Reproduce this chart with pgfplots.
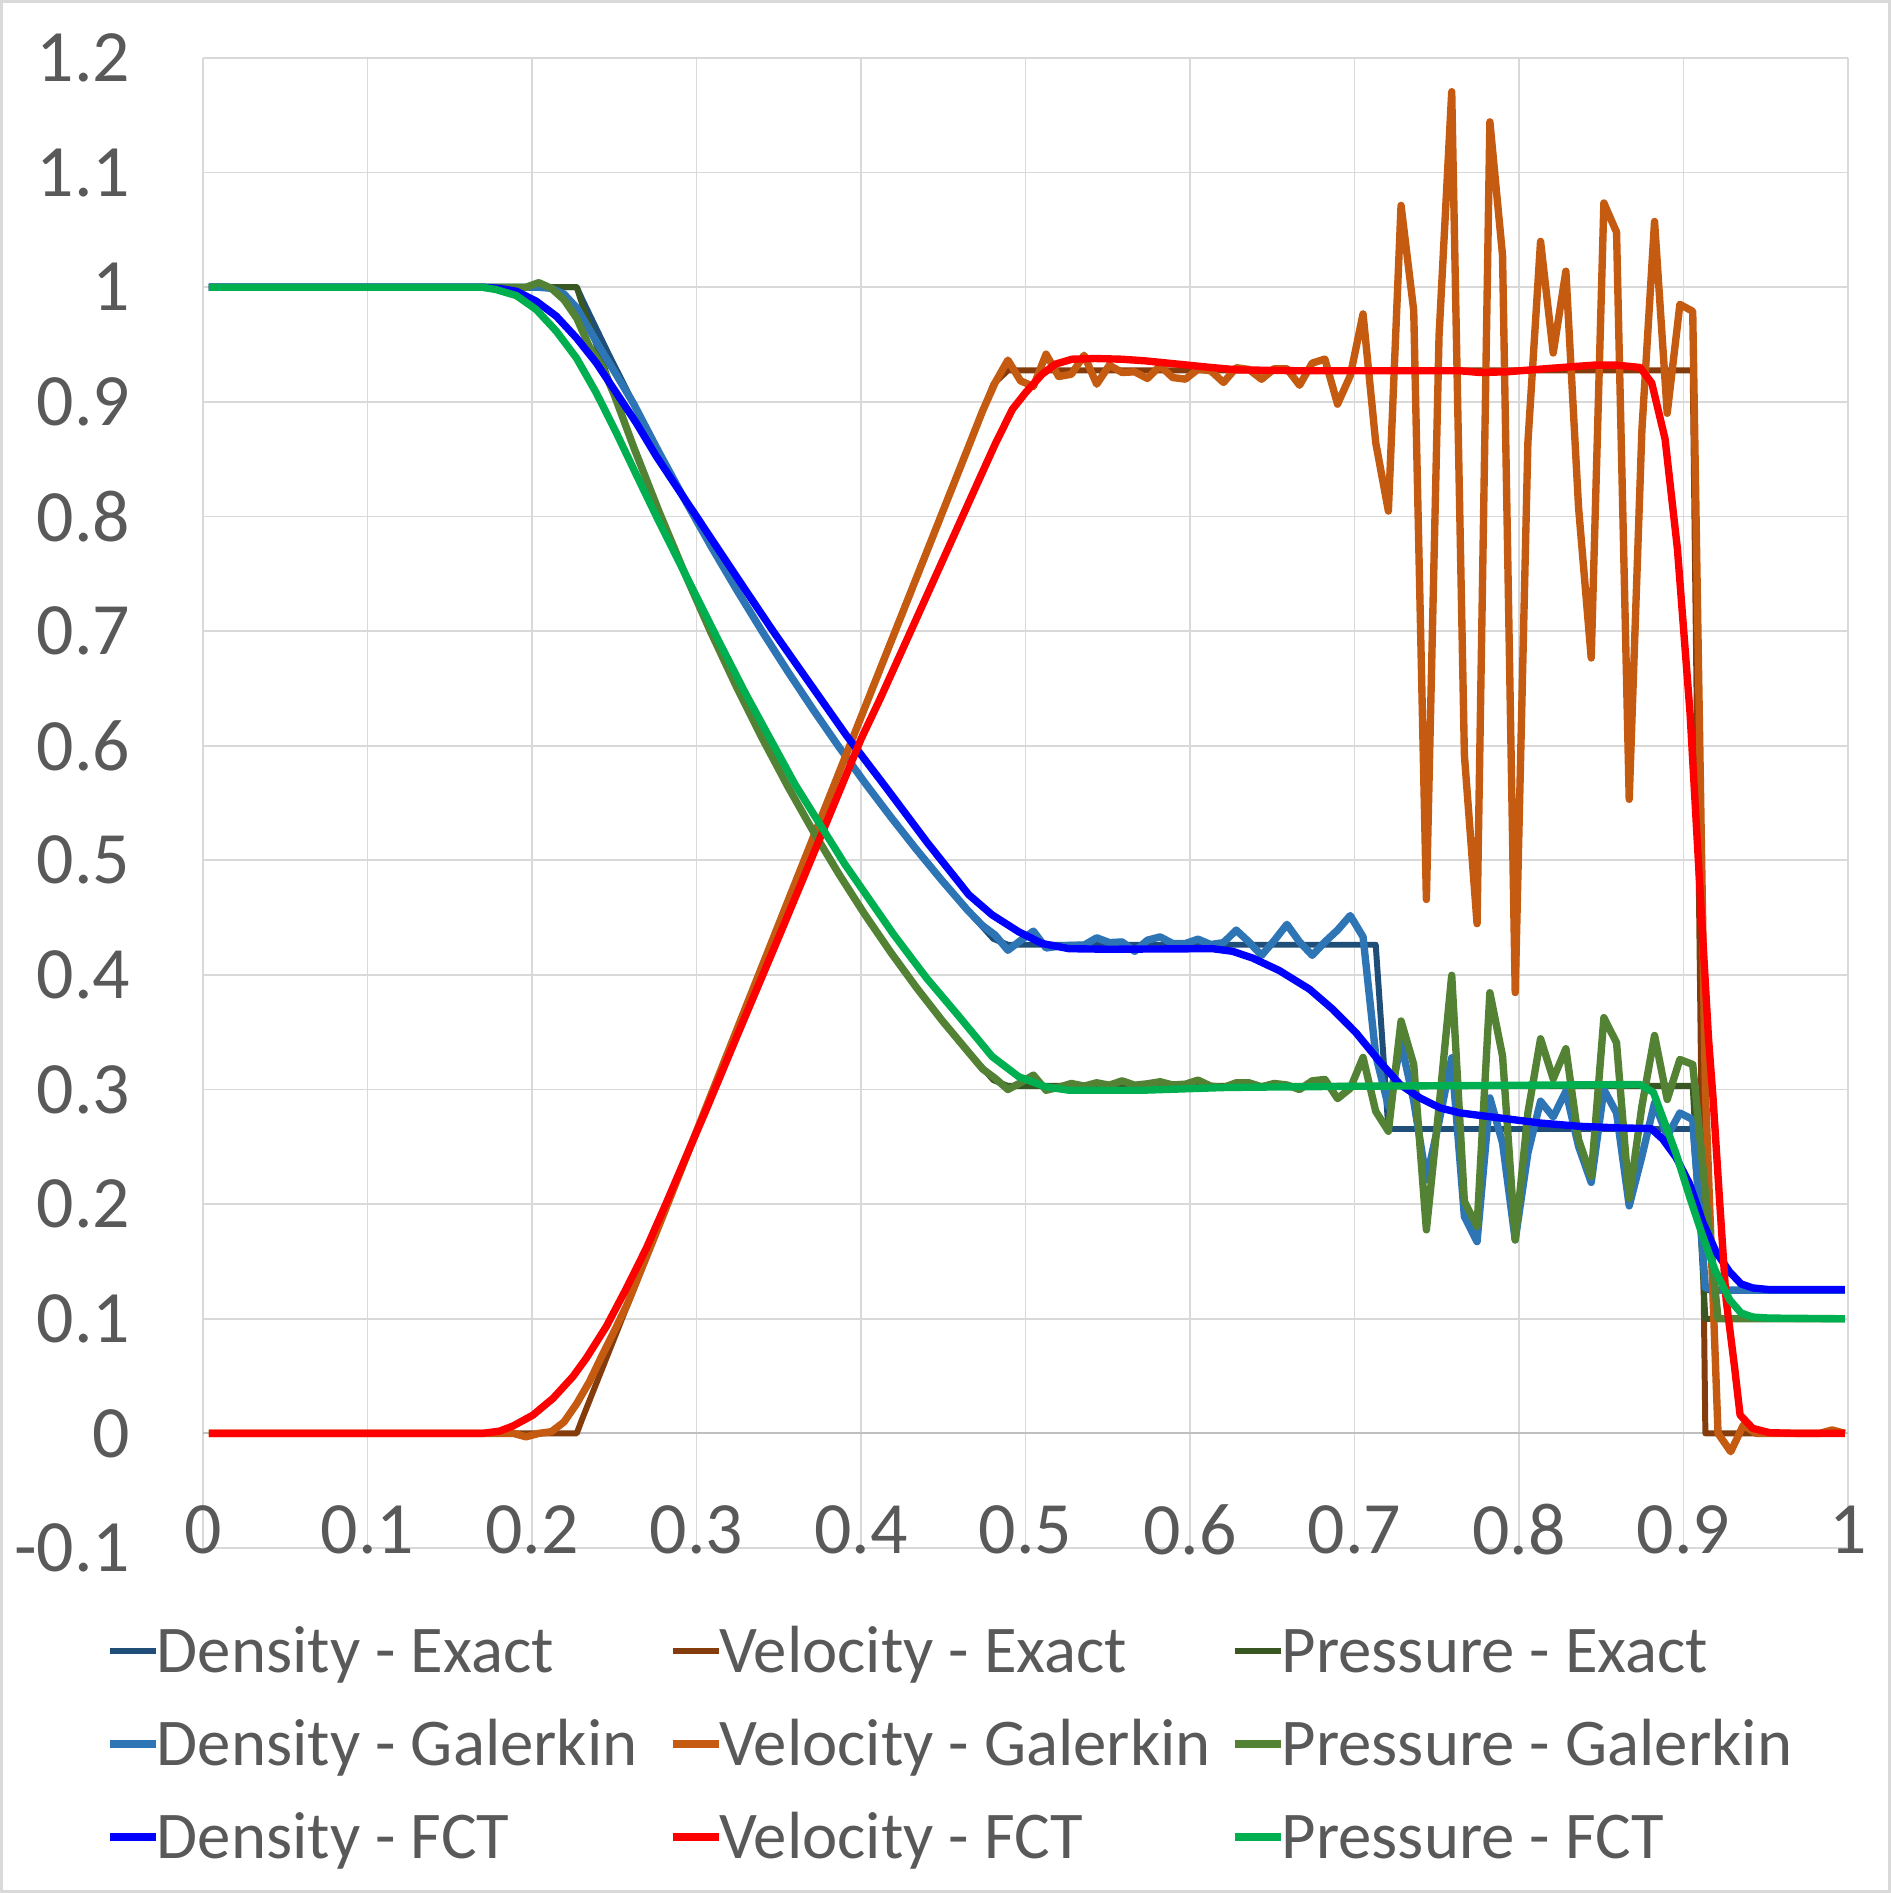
\documentclass[border=0pt]{standalone}
\usepackage{pgfplots}
\pgfplotsset{compat=1.18}
\usepackage{fontspec}
\setmainfont{Carlito}
\definecolor{dexact}{HTML}{1F4E79}
\definecolor{vexact}{HTML}{843C0C}
\definecolor{pexact}{HTML}{385723}
\definecolor{dgal}{HTML}{2E75B6}
\definecolor{vgal}{HTML}{C55A11}
\definecolor{pgal}{HTML}{548235}
\definecolor{dfct}{HTML}{0000FF}
\definecolor{vfct}{HTML}{FF0000}
\definecolor{pfct}{HTML}{00B050}
\definecolor{gridgray}{HTML}{D9D9D9}
\definecolor{axisgray}{HTML}{BFBFBF}
\definecolor{txtgray}{HTML}{595959}
\newcommand{\lgd}[1]{\raisebox{1mm}[4.65mm][4.65mm]{\makebox[51.2mm][l]{#1}}}
\begin{document}
\begin{tikzpicture}
\path[use as bounding box, fill=white] (-20.3mm,-34.5mm) rectangle (168.8mm,154.8mm);
\draw[gridgray, line width=0.25mm] (-20.15mm,-34.35mm) rectangle (168.65mm,154.65mm);
\begin{axis}[
  scale only axis, width=164.5mm, height=149mm,
  xmin=0, xmax=1, ymin=-0.1, ymax=1.2,
  xtick={0,0.1,0.2,0.3,0.4,0.5,0.6,0.7,0.8,0.9,1},
  ytick={-0.1,0,0.1,0.2,0.3,0.4,0.5,0.6,0.7,0.8,0.9,1,1.1,1.2},
  grid=major, major grid style={gridgray, line width=0.5pt},
  axis line style={draw=none},
  major tick length=0pt,
  extra y ticks={0}, extra y tick labels={},
  extra y tick style={grid=major, major grid style={axisgray, line width=0.6pt}},
  /pgf/number format/assume math mode=true,
  tick label style={font=\fontsize{21}{25}\selectfont, text=txtgray},
  xticklabel={\pgfmathprintnumber[fixed,precision=1]{\tick}},
  yticklabel={\pgfmathprintnumber[fixed,precision=1]{\tick}},
  xticklabel style={anchor=center, inner sep=0pt, yshift=1.8mm},
  yticklabel style={anchor=east, inner sep=0pt, xshift=-7.2mm},
  legend columns=3,
  legend style={at={(0,0)}, anchor=north west, xshift=-9.65mm, yshift=-6.7mm,
    draw=none, fill=none, inner sep=0pt, outer sep=0pt, row sep=0pt,
    font=\fontsize{19}{22}\selectfont, text=txtgray,
    nodes={inner sep=0pt, outer sep=0pt},
    /tikz/every odd column/.append style={column sep=-0.3mm},
    /tikz/every even column/.append style={column sep=0pt}},
  legend image code/.code={\path[draw=none, fill=none] (0mm,-4.65mm) rectangle (4.6mm,4.65mm);
    \draw[#1, line cap=butt] (0mm,1.05mm) -- (4.6mm,1.05mm);},
  every axis plot/.append style={line join=round},
]
% Density - Exact
\addplot[dexact, line width=1.7pt] coordinates {
(0.0036,1) (0.2272,1) (0.23047,0.98955) (0.24609,0.94314) (0.26172,0.89849) (0.27734,0.85556) (0.29297,0.81425) (0.30859,0.77457) (0.32422,0.73646) (0.33984,0.69986) (0.35547,0.66475) (0.37109,0.63105) (0.38672,0.59872) (0.40234,0.56774) (0.41797,0.53805) (0.43359,0.50963) (0.44922,0.48238) (0.46484,0.45638) (0.48047,0.43147) (0.4893,0.42632) (0.7129,0.42632) (0.7206,0.26557) (0.9056,0.26557) (0.9133,0.125) (0.9981,0.125)};
\addlegendentry{\lgd{Density - Exact}}
% Velocity - Exact
\addplot[vexact, line width=1.7pt] coordinates {
(0.0036,0) (0.2272,0) (0.23047,0.01241) (0.24609,0.06884) (0.26172,0.12530) (0.27734,0.18173) (0.29297,0.23818) (0.30859,0.29461) (0.32422,0.35107) (0.33984,0.40749) (0.35547,0.46395) (0.37109,0.52037) (0.38672,0.57682) (0.40234,0.63325) (0.41797,0.68971) (0.43359,0.74613) (0.44922,0.80259) (0.46484,0.85901) (0.48047,0.91547) (0.4893,0.92745) (0.9056,0.92745) (0.9133,0) (0.9981,0)};
\addlegendentry{\lgd{Velocity - Exact}}
% Pressure - Exact
\addplot[pexact, line width=1.7pt] coordinates {
(0.0036,1) (0.2272,1) (0.23047,0.98540) (0.24609,0.92131) (0.26172,0.86083) (0.27734,0.80379) (0.29297,0.75001) (0.30859,0.69936) (0.32422,0.65165) (0.33984,0.60678) (0.35547,0.56459) (0.37109,0.52493) (0.38672,0.48768) (0.40234,0.45270) (0.41797,0.41994) (0.43359,0.38918) (0.44922,0.36036) (0.46484,0.33345) (0.48047,0.30825) (0.4893,0.30313) (0.9056,0.30313) (0.9133,0.1) (0.9981,0.1)};
\addlegendentry{\lgd{Pressure - Exact}}
% Density - Galerkin
\addplot[dgal, line width=2.1pt] coordinates {
(0.0036,1) (0.2041,1) (0.2118,0.999) (0.2195,0.994) (0.2272,0.982) (0.2349,0.963) (0.2426,0.944) (0.2503,0.926) (0.26172,0.8985) (0.27734,0.8556) (0.29297,0.8143) (0.30859,0.7746) (0.32422,0.7365) (0.33984,0.6999) (0.35547,0.6648) (0.37109,0.6311) (0.38672,0.5987) (0.40234,0.5677) (0.41797,0.5381) (0.43359,0.5096) (0.44922,0.4824) (0.46484,0.4564) (0.4739,0.443) (0.4816,0.4347) (0.4893,0.4215) (0.4970,0.430) (0.5048,0.4382) (0.5125,0.4235) (0.5202,0.425) (0.5279,0.4259) (0.5356,0.426) (0.5433,0.4324) (0.5510,0.4282) (0.5587,0.4288) (0.5664,0.4206) (0.5741,0.4303) (0.5818,0.4332) (0.5895,0.4274) (0.5972,0.4274) (0.6049,0.4312) (0.6126,0.4265) (0.6204,0.4282) (0.6281,0.4391) (0.6358,0.4288) (0.6435,0.4171) (0.6512,0.430) (0.6589,0.4441) (0.6666,0.4288) (0.6743,0.4171) (0.6820,0.4288) (0.6897,0.4391) (0.6974,0.4518) (0.7052,0.4332) (0.7129,0.33) (0.7206,0.2854) (0.7283,0.3408) (0.7360,0.29) (0.7437,0.2213) (0.7514,0.272) (0.7591,0.3277) (0.7668,0.1892) (0.7745,0.1673) (0.7823,0.2927) (0.7900,0.2534) (0.7977,0.1688) (0.8054,0.2446) (0.8131,0.2898) (0.8208,0.2761) (0.8285,0.2985) (0.8362,0.2504) (0.8439,0.2190) (0.8516,0.300) (0.8593,0.2796) (0.8670,0.1985) (0.8747,0.2417) (0.8824,0.2883) (0.8901,0.2592) (0.8978,0.2796) (0.9056,0.2738) (0.9133,0.127) (0.9210,0.125) (0.9981,0.125)};
\addlegendentry{\lgd{Density - Galerkin}}
% Velocity - Galerkin
\addplot[vgal, line width=2.1pt] coordinates {
(0.0036,0) (0.1887,0) (0.1964,-0.003) (0.2041,0) (0.2118,0.0015) (0.2195,0.010) (0.2272,0.026) (0.2349,0.045) (0.2426,0.068) (0.2503,0.090) (0.2580,0.113) (0.27734,0.1817) (0.29297,0.2382) (0.30859,0.2946) (0.32422,0.3511) (0.33984,0.4075) (0.35547,0.4640) (0.37109,0.5204) (0.38672,0.5768) (0.40234,0.6333) (0.41797,0.6897) (0.43359,0.7461) (0.44922,0.8026) (0.46484,0.8590) (0.4739,0.892) (0.4816,0.9169) (0.4893,0.9364) (0.4970,0.9183) (0.5048,0.9134) (0.5125,0.9416) (0.5202,0.9221) (0.5279,0.9241) (0.5356,0.9407) (0.5433,0.9154) (0.5510,0.932) (0.5587,0.9256) (0.5664,0.9262) (0.5741,0.9204) (0.5818,0.9314) (0.5895,0.9212) (0.5972,0.9198) (0.6049,0.9285) (0.6126,0.9271) (0.6204,0.9169) (0.6281,0.9298) (0.6358,0.9283) (0.6435,0.9197) (0.6512,0.9289) (0.6589,0.9289) (0.6666,0.9145) (0.6743,0.9338) (0.6820,0.9373) (0.6897,0.898) (0.6974,0.9227) (0.7052,0.9767) (0.7129,0.8644) (0.7206,0.8047) (0.7283,1.0714) (0.7360,0.9796) (0.7437,0.4658) (0.7514,0.9577) (0.7591,1.1706) (0.7668,0.592) (0.7745,0.4447) (0.7823,1.1443) (0.7900,1.0277) (0.7977,0.3846) (0.8054,0.8644) (0.8131,1.04) (0.8208,0.9426) (0.8285,1.014) (0.8362,0.808) (0.8439,0.6765) (0.8516,1.0735) (0.8593,1.048) (0.8670,0.5532) (0.8747,0.875) (0.8824,1.0574) (0.8901,0.89) (0.8978,0.985) (0.9056,0.979) (0.9133,0.30) (0.9210,0) (0.9287,-0.016) (0.9364,0.0073) (0.9441,0) (0.9827,0) (0.9904,0.003) (0.9981,0)};
\addlegendentry{\lgd{Velocity - Galerkin}}
% Pressure - Galerkin
\addplot[pgal, line width=2.1pt] coordinates {
(0.0036,1) (0.1964,1) (0.2041,1.004) (0.2118,0.999) (0.2195,0.989) (0.2272,0.973) (0.2349,0.948) (0.2426,0.931) (0.2503,0.905) (0.26172,0.86083) (0.27734,0.80379) (0.29297,0.75001) (0.30859,0.69936) (0.32422,0.65165) (0.33984,0.60678) (0.35547,0.56459) (0.37109,0.52493) (0.38672,0.48768) (0.40234,0.45270) (0.41797,0.41994) (0.43359,0.38918) (0.44922,0.36036) (0.46484,0.33345) (0.4739,0.318) (0.4816,0.3097) (0.4893,0.300) (0.4970,0.306) (0.5048,0.3126) (0.5125,0.2994) (0.5202,0.302) (0.5279,0.3053) (0.5356,0.303) (0.5433,0.3059) (0.5510,0.3038) (0.5587,0.3076) (0.5664,0.3038) (0.5741,0.305) (0.5818,0.3068) (0.5895,0.304) (0.5972,0.3047) (0.6049,0.3082) (0.6126,0.303) (0.6204,0.3018) (0.6281,0.3059) (0.6358,0.3059) (0.6435,0.3024) (0.6512,0.3053) (0.6589,0.304) (0.6666,0.300) (0.6743,0.3076) (0.6820,0.3088) (0.6897,0.2921) (0.6974,0.301) (0.7052,0.328) (0.7129,0.281) (0.7206,0.2636) (0.7283,0.3598) (0.7360,0.3219) (0.7437,0.1776) (0.7514,0.285) (0.7591,0.3997) (0.7668,0.2023) (0.7745,0.1805) (0.7823,0.3845) (0.7900,0.3292) (0.7977,0.1688) (0.8054,0.2796) (0.8131,0.3443) (0.8208,0.3093) (0.8285,0.3356) (0.8362,0.2563) (0.8439,0.2242) (0.8516,0.3627) (0.8593,0.3408) (0.8670,0.205) (0.8747,0.2854) (0.8824,0.3472) (0.8901,0.2913) (0.8978,0.3262) (0.9056,0.3219) (0.9133,0.21) (0.9210,0.100) (0.9981,0.1)};
\addlegendentry{\lgd{Pressure - Galerkin}}
% Density - FCT
\addplot[dfct, line width=2.1pt] coordinates {
(0.0036,1) (0.17,1) (0.180,0.999) (0.1905,0.9965) (0.2026,0.9878) (0.2148,0.9747) (0.227,0.9558) (0.2391,0.934) (0.2513,0.9078) (0.2634,0.8816) (0.2756,0.8525) (0.2877,0.8263) (0.2999,0.8002) (0.312,0.774) (0.3242,0.7478) (0.3364,0.7216) (0.3473,0.6984) (0.3913,0.6086) (0.4155,0.563) (0.44,0.516) (0.4655,0.470) (0.4797,0.4524) (0.4959,0.4376) (0.5102,0.4274) (0.5264,0.4229) (0.55,0.4224) (0.6137,0.4229) (0.6259,0.4206) (0.6381,0.4147) (0.6543,0.4038) (0.6726,0.3876) (0.6868,0.37) (0.701,0.3494) (0.7155,0.324) (0.7277,0.3044) (0.7398,0.2927) (0.752,0.284) (0.7641,0.2796) (0.7885,0.2752) (0.8128,0.2708) (0.8371,0.2679) (0.8614,0.2665) (0.8803,0.266) (0.8874,0.2567) (0.8955,0.2407) (0.9036,0.218) (0.9118,0.184) (0.9199,0.158) (0.928,0.141) (0.935,0.1304) (0.9421,0.1269) (0.9523,0.1254) (0.9981,0.1254)};
\addlegendentry{\lgd{Density - FCT}}
% Velocity - FCT
\addplot[vfct, line width=2.1pt] coordinates {
(0.0036,0) (0.17,0) (0.1803,0.002) (0.1884,0.0064) (0.2006,0.016) (0.2128,0.0306) (0.2249,0.0496) (0.233,0.0656) (0.2452,0.0933) (0.2574,0.1265) (0.2695,0.1615) (0.2817,0.2012) (0.2938,0.2419) (0.306,0.2827) (0.325,0.348) (0.35,0.433) (0.375,0.519) (0.4,0.6057) (0.4115,0.6405) (0.4317,0.7045) (0.4518,0.7685) (0.4719,0.8325) (0.482,0.8645) (0.4921,0.8936) (0.5001,0.9081) (0.5101,0.9241) (0.5182,0.9329) (0.5283,0.9372) (0.5423,0.9378) (0.5584,0.9372) (0.5725,0.9358) (0.5926,0.9329) (0.6127,0.93) (0.6288,0.9279) (0.6669,0.9271) (0.7641,0.9271) (0.7763,0.9256) (0.7925,0.9262) (0.8189,0.9292) (0.8452,0.932) (0.8594,0.932) (0.8736,0.930) (0.8807,0.9164) (0.8888,0.8676) (0.8963,0.7717) (0.904,0.6279) (0.9101,0.4726) (0.9152,0.3447) (0.918,0.2917) (0.9219,0.204) (0.9259,0.1167) (0.931,0.0583) (0.9344,0.016) (0.9421,0.0044) (0.9523,0.0006) (0.97,0) (0.9981,0)};
\addlegendentry{\lgd{Velocity - FCT}}
% Pressure - FCT
\addplot[pfct, line width=2.1pt] coordinates {
(0.0036,1) (0.17,1) (0.178,0.998) (0.1905,0.9927) (0.2026,0.9805) (0.2148,0.9616) (0.227,0.9383) (0.2391,0.9078) (0.2513,0.8729) (0.2634,0.8365) (0.2756,0.8002) (0.2877,0.7653) (0.2999,0.7304) (0.312,0.6955) (0.33,0.645) (0.36,0.566) (0.39,0.497) (0.42,0.435) (0.44,0.397) (0.4594,0.3641) (0.4797,0.3288) (0.4959,0.3112) (0.5122,0.3024) (0.5264,0.2994) (0.5711,0.2994) (0.6218,0.3018) (0.6624,0.3024) (0.7152,0.303) (0.8736,0.3044) (0.8817,0.2975) (0.8874,0.2755) (0.8955,0.244) (0.9036,0.207) (0.911,0.175) (0.919,0.143) (0.928,0.1167) (0.935,0.105) (0.9421,0.1015) (0.9523,0.1006) (0.9981,0.1)};
\addlegendentry{\lgd{Pressure - FCT}}
\end{axis}
\end{tikzpicture}
\end{document}
